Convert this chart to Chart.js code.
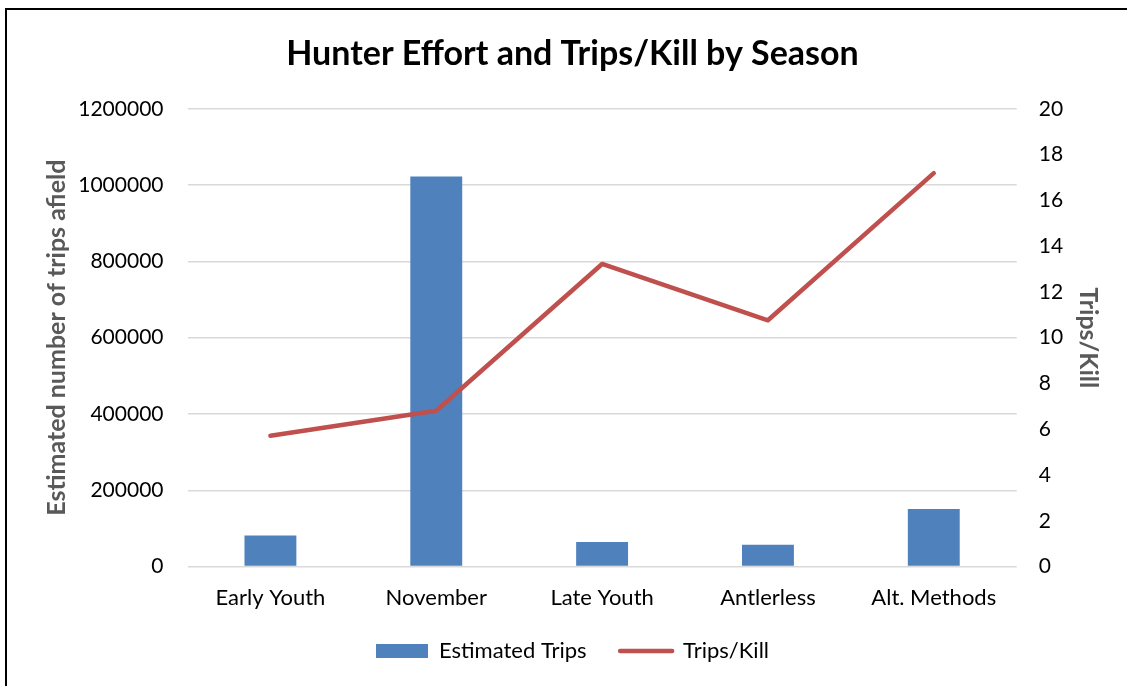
<!DOCTYPE html>
<html>
<head>
<meta charset="utf-8">
<script src="https://cdn.jsdelivr.net/npm/chart.js@4"></script>
<style>
  html, body { margin: 0; padding: 0; background: #fff; }
  #wrap { position: relative; width: 1127px; height: 686px; }
  #frame { position: absolute; left: 5px; top: 8px; right: -4px; bottom: -4px;
           border-left: 2px solid #000; border-top: 2px solid #000; pointer-events: none; }
</style>
</head>
<body>
<div id="wrap">
  <canvas id="c" width="1127" height="686"></canvas>
  <div id="frame"></div>
</div>
<script>
// Saisonkategorien und Werte
var seasons = ['Early Youth', 'November', 'Late Youth', 'Antlerless', 'Alt. Methods'];
var estimatedTrips = [81200, 1022600, 64700, 57600, 151200];
var tripsPerKill = [5.72, 6.81, 13.22, 10.76, 17.19];
var leftTicks = [0, 200000, 400000, 600000, 800000, 1000000, 1200000];
var rightTicks = [0, 2, 4, 6, 8, 10, 12, 14, 16, 18, 20];

var FONT = 'Lato, "Open Sans", sans-serif';
Chart.defaults.font.family = FONT;
Chart.defaults.color = '#000';

new Chart(document.getElementById('c').getContext('2d'), {
  type: 'bar',
  data: {
    labels: seasons,
    datasets: [
      { type: 'line', label: 'Trips/Kill', data: tripsPerKill, yAxisID: 'y2',
        borderColor: '#c0504d', backgroundColor: '#c0504d', borderWidth: 4.5,
        borderCapStyle: 'round', borderJoinStyle: 'round', pointRadius: 0, tension: 0, order: 0 },
      { label: 'Estimated Trips', data: estimatedTrips, yAxisID: 'y',
        backgroundColor: '#4f81bd', borderWidth: 0, categoryPercentage: 1, barPercentage: 0.313, order: 1 }
    ]
  },
  options: {
    responsive: false, animation: false,
    layout: { padding: { left: 42, right: 24, top: 0, bottom: 14 } },
    plugins: {
      title: { display: true, text: 'Hunter Effort and Trips/Kill by Season', color: '#000',
        font: { size: 34, weight: 'bold' }, padding: { top: 34, bottom: 34 } },
      legend: {
        position: 'bottom', reverse: true,
        labels: {
          font: { size: 22 }, color: '#000', usePointStyle: true, pointStyleWidth: 52, boxHeight: 14, padding: 11,
          generateLabels: function (chart) {
            var items = Chart.defaults.plugins.legend.labels.generateLabels(chart);
            items.forEach(function (it) {
              var ds = chart.data.datasets[it.datasetIndex];
              if (ds.type === 'line') { it.pointStyle = 'line'; it.lineWidth = 4.5; it.lineCap = 'round'; it.strokeStyle = '#c0504d'; }
              else { it.pointStyle = 'rect'; it.lineWidth = 0; it.text = it.text + '    '; }
            });
            return items;
          }
        }
      },
      tooltip: { enabled: false }
    },
    scales: {
      x: {
        grid: { display: false, drawTicks: false }, border: { display: false },
        ticks: { font: { size: 22 }, color: '#000', padding: 18 }
      },
      y: {
        position: 'left', min: 0, max: 1200000,
        afterBuildTicks: function (ax) { ax.ticks = leftTicks.map(function (v) { return { value: v }; }); },
        afterFit: function (ax) { ax.width = 145.5; },
        grid: { color: '#d9d9d9', lineWidth: 1.5, drawTicks: false }, border: { display: false },
        ticks: { font: { size: 21 }, color: '#000', padding: 24, callback: function (v) { return String(v); } },
        title: { display: true, text: 'Estimated number of trips afield', color: '#595959',
          font: { size: 25, weight: 'bold' }, padding: { top: 0, bottom: 2 } }
      },
      y2: {
        position: 'right', min: 0, max: 20,
        afterBuildTicks: function (ax) { ax.ticks = rightTicks.map(function (v) { return { value: v }; }); },
        afterFit: function (ax) { ax.width = 86.3; },
        grid: { display: false, drawTicks: false }, border: { display: false },
        ticks: { font: { size: 21 }, color: '#000', padding: 22, callback: function (v) { return String(v); } },
        title: { display: true, text: 'Trips/Kill', color: '#595959',
          font: { size: 25, weight: 'bold' }, padding: { top: 0, bottom: 0 } }
      }
    }
  }
});
</script>
</body>
</html>
